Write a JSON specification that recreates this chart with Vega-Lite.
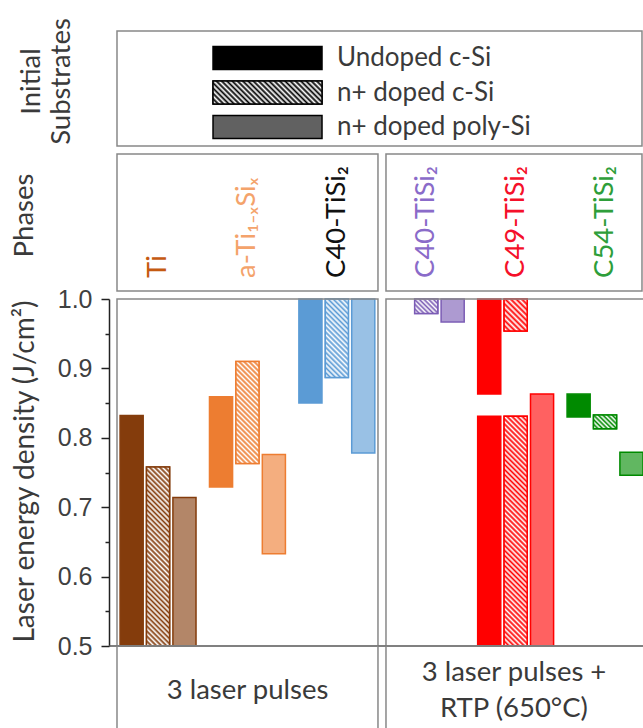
{
  "$schema": "https://vega.github.io/schema/vega-lite/v6.json",
  "autosize": {"type": "pad"},
  "padding": {"left": 10, "top": 17, "right": 0, "bottom": 0},
  "background": "white",
  "config": {
    "view": {"stroke": null},
    "font": "Lato",
    "axis": {"grid": false}
  },
  "datasets": {
    "substrates": [
      {"substrate": "Undoped c-Si"},
      {"substrate": "n+ doped c-Si"},
      {"substrate": "n+ doped poly-Si"}
    ],
    "phases": [
      {"panel": "laser", "group": "Ti", "label": "Ti"},
      {"panel": "laser", "group": "a-TiSi", "label": "a-Ti₁₋ₓSiₓ"},
      {"panel": "laser", "group": "C40 laser", "label": "C40-TiSi₂"},
      {"panel": "rtp", "group": "C40 RTP", "label": "C40-TiSi₂"},
      {"panel": "rtp", "group": "C49", "label": "C49-TiSi₂"},
      {"panel": "rtp", "group": "C54", "label": "C54-TiSi₂"}
    ],
    "treatments": [
      {"panel": "laser", "label": "3 laser pulses"},
      {"panel": "rtp", "label": "3 laser pulses +\nRTP (650°C)"}
    ],
    "bars": [
      {"panel": "laser", "group": "Ti", "substrate": "Undoped c-Si", "low": 0.5, "high": 0.832},
      {"panel": "laser", "group": "Ti", "substrate": "n+ doped c-Si", "low": 0.5, "high": 0.758},
      {"panel": "laser", "group": "Ti", "substrate": "n+ doped poly-Si", "low": 0.5, "high": 0.714},
      {"panel": "laser", "group": "a-TiSi", "substrate": "Undoped c-Si", "low": 0.729, "high": 0.859},
      {"panel": "laser", "group": "a-TiSi", "substrate": "n+ doped c-Si", "low": 0.763, "high": 0.91},
      {"panel": "laser", "group": "a-TiSi", "substrate": "n+ doped poly-Si", "low": 0.633, "high": 0.776},
      {"panel": "laser", "group": "C40 laser", "substrate": "Undoped c-Si", "low": 0.85, "high": 1.0},
      {"panel": "laser", "group": "C40 laser", "substrate": "n+ doped c-Si", "low": 0.887, "high": 1.0},
      {"panel": "laser", "group": "C40 laser", "substrate": "n+ doped poly-Si", "low": 0.778, "high": 1.0},
      {"panel": "rtp", "group": "C40 RTP", "substrate": "n+ doped c-Si", "low": 0.979, "high": 1.0},
      {"panel": "rtp", "group": "C40 RTP", "substrate": "n+ doped poly-Si", "low": 0.967, "high": 1.0},
      {"panel": "rtp", "group": "C49", "substrate": "Undoped c-Si", "low": 0.863, "high": 1.0},
      {"panel": "rtp", "group": "C49", "substrate": "Undoped c-Si", "low": 0.5, "high": 0.831},
      {"panel": "rtp", "group": "C49", "substrate": "n+ doped c-Si", "low": 0.954, "high": 1.0},
      {"panel": "rtp", "group": "C49", "substrate": "n+ doped c-Si", "low": 0.5, "high": 0.831},
      {"panel": "rtp", "group": "C49", "substrate": "n+ doped poly-Si", "low": 0.5, "high": 0.863},
      {"panel": "rtp", "group": "C54", "substrate": "Undoped c-Si", "low": 0.83, "high": 0.863},
      {"panel": "rtp", "group": "C54", "substrate": "n+ doped c-Si", "low": 0.813, "high": 0.833},
      {"panel": "rtp", "group": "C54", "substrate": "n+ doped poly-Si", "low": 0.746, "high": 0.779}
    ]
  },
  "bounds": "flush",
  "spacing": 0,
  "resolve": {"scale": {"x": "independent", "y": "independent", "color": "independent", "fill": "independent", "stroke": "independent", "fillOpacity": "independent"}},
  "vconcat": [
    {
      "width": 534,
      "height": 123,
      "resolve": {"scale": {"y": "independent", "x": "shared"}},
      "layer": [
        {
          "data": {"values": [{}]},
          "mark": {"type": "rect", "fill": "transparent", "stroke": "#888888", "strokeWidth": 1.5},
          "encoding": {
            "x": {"datum": 0.01498, "type": "quantitative", "scale": {"domain": [0, 1]}, "axis": null},
            "x2": {"datum": 0.9981},
            "y": {"datum": 0.065, "type": "quantitative", "scale": {"domain": [0, 1]}, "axis": null},
            "y2": {"datum": 1}
          }
        },
        {
          "data": {"name": "substrates"},
          "encoding": {
            "y": {
              "field": "substrate", "type": "nominal", "sort": null,
              "scale": {"domain": ["Undoped c-Si", "n+ doped c-Si", "n+ doped poly-Si"], "paddingInner": 0.333, "paddingOuter": 0.449},
              "axis": {"title": ["Initial", "Substrates"], "labels": false, "ticks": false, "domain": false,
                       "titleFont": "Lato", "titleFontSize": 27.5, "titleFontWeight": "normal", "titleColor": "#3a3a3a",
                       "titleAngle": 270, "titleAlign": "center", "titleBaseline": "middle", "titleX": -78, "titleY": 50, "titleLineHeight": 30}
            }
          },
          "layer": [
            {
              "mark": {"type": "rect", "stroke": "black", "strokeWidth": 1.5},
              "encoding": {
                "x": {"datum": 0.1948, "type": "quantitative"},
                "x2": {"datum": 0.3989},
                "fill": {"value": "black"},
                "fillOpacity": {"field": "substrate", "type": "nominal", "scale": {"type": "ordinal", "domain": ["Undoped c-Si", "n+ doped c-Si", "n+ doped poly-Si"], "range": [1, 0.5, 0.62]}, "legend": null}
              }
            },
            {
              "transform": [{"filter": "datum.substrate == 'n+ doped c-Si'"}],
              "mark": {"type": "rect", "stroke": "black", "strokeWidth": 1.5,
                       "fill": {"gradient": "linear", "x1": 0, "y1": 1, "x2": 1.159, "y2": 0.755, "stops": [
                         {"offset": 0, "color": "#000000"}, {"offset": 0.02, "color": "#ffffff"}, {"offset": 0.04, "color": "#000000"}, {"offset": 0.06, "color": "#ffffff"},
                         {"offset": 0.08, "color": "#000000"}, {"offset": 0.1, "color": "#ffffff"}, {"offset": 0.12, "color": "#000000"}, {"offset": 0.14, "color": "#ffffff"},
                         {"offset": 0.16, "color": "#000000"}, {"offset": 0.18, "color": "#ffffff"}, {"offset": 0.2, "color": "#000000"}, {"offset": 0.22, "color": "#ffffff"},
                         {"offset": 0.24, "color": "#000000"}, {"offset": 0.26, "color": "#ffffff"}, {"offset": 0.28, "color": "#000000"}, {"offset": 0.3, "color": "#ffffff"},
                         {"offset": 0.32, "color": "#000000"}, {"offset": 0.34, "color": "#ffffff"}, {"offset": 0.36, "color": "#000000"}, {"offset": 0.38, "color": "#ffffff"},
                         {"offset": 0.4, "color": "#000000"}, {"offset": 0.42, "color": "#ffffff"}, {"offset": 0.44, "color": "#000000"}, {"offset": 0.46, "color": "#ffffff"},
                         {"offset": 0.48, "color": "#000000"}, {"offset": 0.5, "color": "#ffffff"}, {"offset": 0.52, "color": "#000000"}, {"offset": 0.54, "color": "#ffffff"},
                         {"offset": 0.56, "color": "#000000"}, {"offset": 0.58, "color": "#ffffff"}, {"offset": 0.6, "color": "#000000"}, {"offset": 0.62, "color": "#ffffff"},
                         {"offset": 0.64, "color": "#000000"}, {"offset": 0.66, "color": "#ffffff"}, {"offset": 0.68, "color": "#000000"}, {"offset": 0.7, "color": "#ffffff"},
                         {"offset": 0.72, "color": "#000000"}, {"offset": 0.74, "color": "#ffffff"}, {"offset": 0.76, "color": "#000000"}, {"offset": 0.78, "color": "#ffffff"},
                         {"offset": 0.8, "color": "#000000"}, {"offset": 0.82, "color": "#ffffff"}, {"offset": 0.84, "color": "#000000"}, {"offset": 0.86, "color": "#ffffff"},
                         {"offset": 0.88, "color": "#000000"}, {"offset": 0.9, "color": "#ffffff"}, {"offset": 0.92, "color": "#000000"}, {"offset": 0.94, "color": "#ffffff"},
                         {"offset": 0.96, "color": "#000000"}, {"offset": 0.98, "color": "#ffffff"}, {"offset": 1, "color": "#000000"}]}},
              "encoding": {
                "x": {"datum": 0.1948, "type": "quantitative"},
                "x2": {"datum": 0.3989}
              }
            },
            {
              "mark": {"type": "text", "align": "left", "baseline": "middle", "font": "Lato", "fontSize": 26, "color": "#3a3a3a"},
              "encoding": {
                "x": {"datum": 0.427, "type": "quantitative"},
                "text": {"field": "substrate"}
              }
            }
          ]
        }
      ]
    },
    {
      "width": 534,
      "height": 145,
      "resolve": {"scale": {"x": "independent"}},
      "layer": [
        {
          "data": {"values": [{}]},
          "layer": [
            {
              "mark": {"type": "rect", "fill": "transparent", "stroke": "#888888", "strokeWidth": 1.5},
              "encoding": {
                "x": {"datum": 0.01498, "type": "quantitative", "scale": {"domain": [0, 1]}, "axis": null},
                "x2": {"datum": 0.5037},
                "y": {"datum": 0.0552, "type": "quantitative", "scale": {"domain": [0, 1]},
                      "axis": {"title": "Phases", "labels": false, "ticks": false, "domain": false,
                               "titleFont": "Lato", "titleFontSize": 27.5, "titleFontWeight": "normal", "titleColor": "#3a3a3a",
                               "titleAngle": 270, "titleAlign": "center", "titleBaseline": "middle", "titleX": -85, "titleY": 61}},
                "y2": {"datum": 1}
              }
            },
            {
              "mark": {"type": "rect", "fill": "transparent", "stroke": "#888888", "strokeWidth": 1.5},
              "encoding": {
                "x": {"datum": 0.5187, "type": "quantitative"},
                "x2": {"datum": 0.9981},
                "y": {"datum": 0.0552, "type": "quantitative"},
                "y2": {"datum": 1}
              }
            }
          ]
        },
        {
          "data": {"name": "phases"},
          "mark": {"type": "text", "angle": 270, "align": "left", "baseline": "middle", "font": "Lato", "fontSize": 27.5},
          "encoding": {
            "x": {"field": "group", "type": "nominal", "sort": null, "scale": {"type": "band", "domain": ["Ti", "a-TiSi", "C40 laser", "C40 RTP", "C49", "C54"], "paddingInner": 0.1506, "paddingOuter": 0.062, "align": 1}, "axis": null},
            "y": {"datum": 0.145, "type": "quantitative"},
            "text": {"field": "label"},
            "color": {"field": "group", "type": "nominal", "scale": {"domain": ["Ti", "a-TiSi", "C40 laser", "C40 RTP", "C49", "C54"], "range": ["#C55A11", "#F4A36B", "#111111", "#8A6BC9", "#F5102A", "#2E9E3A"]}, "legend": null}
          }
        }
      ]
    },
    {
      "width": 534,
      "height": 347,
      "resolve": {"scale": {"x": "independent", "y": "independent"}},
      "layer": [
        {
          "data": {"name": "bars"},
          "encoding": {
            "x": {"field": "group", "type": "nominal", "sort": null, "scale": {"domain": ["Ti", "a-TiSi", "C40 laser", "C40 RTP", "C49", "C54"], "paddingInner": 0.1506, "paddingOuter": 0.062, "align": 1}, "axis": null},
            "xOffset": {"field": "substrate", "type": "nominal", "sort": null, "scale": {"domain": ["Undoped c-Si", "n+ doped c-Si", "n+ doped poly-Si"], "paddingInner": 0.1255, "paddingOuter": 0}},
            "y": {
              "field": "low", "type": "quantitative",
              "scale": {"domain": [0.5, 1.0], "nice": false, "zero": false},
              "axis": {
                "title": "Laser energy density (J/cm²)",
                "values": [0.5, 0.6, 0.7, 0.8, 0.9, 1.0],
                "format": ".1f",
                "tickSize": 8,
                "domainColor": "#222222", "domainWidth": 1.5,
                "tickColor": "#222222", "tickWidth": 1.5,
                "labelFont": "Liberation Sans", "labelFontSize": 25, "labelColor": "#404040",
                "labelPadding": 9, "labelOverlap": false, "labelFlush": false,
                "titleFont": "Lato", "titleFontSize": 28, "titleFontWeight": "normal", "titleColor": "#3a3a3a",
                "titleAngle": 270, "titleAlign": "center", "titleBaseline": "middle", "titleX": -84, "titleY": 172
              }
            },
            "y2": {"field": "high"}
          },
          "layer": [
            {
              "mark": {"type": "bar", "strokeWidth": 1.5},
              "encoding": {
                "fill": {"field": "group", "type": "nominal", "scale": {"domain": ["Ti", "a-TiSi", "C40 laser", "C40 RTP", "C49", "C54"], "range": ["#843C0C", "#ED7D31", "#5B9BD5", "#7B5CB5", "#FF0000", "#008A00"]}, "legend": null},
                "stroke": {"field": "group", "type": "nominal", "scale": {"domain": ["Ti", "a-TiSi", "C40 laser", "C40 RTP", "C49", "C54"], "range": ["#843C0C", "#ED7D31", "#5B9BD5", "#7B5CB5", "#FF0000", "#008A00"]}, "legend": null},
                "fillOpacity": {"field": "substrate", "type": "nominal", "scale": {"type": "ordinal", "domain": ["Undoped c-Si", "n+ doped c-Si", "n+ doped poly-Si"], "range": [1, 0.5, 0.62]}, "legend": null}
              }
            },
            {
              "transform": [{"filter": "datum.group == 'Ti' && datum.substrate == 'n+ doped c-Si'"}],
              "mark": {"type": "bar", "strokeWidth": 1.5, "stroke": "#843C0C",
                       "fill": {"gradient": "linear", "x1": 0, "y1": 1, "x2": 0.143, "y2": -0.11, "stops": [
                         {"offset": 0, "color": "#843C0C"}, {"offset": 0.0125, "color": "#ffffff"}, {"offset": 0.025, "color": "#843C0C"}, {"offset": 0.0375, "color": "#ffffff"},
                         {"offset": 0.05, "color": "#843C0C"}, {"offset": 0.0625, "color": "#ffffff"}, {"offset": 0.075, "color": "#843C0C"}, {"offset": 0.0875, "color": "#ffffff"},
                         {"offset": 0.1, "color": "#843C0C"}, {"offset": 0.1125, "color": "#ffffff"}, {"offset": 0.125, "color": "#843C0C"}, {"offset": 0.1375, "color": "#ffffff"},
                         {"offset": 0.15, "color": "#843C0C"}, {"offset": 0.1625, "color": "#ffffff"}, {"offset": 0.175, "color": "#843C0C"}, {"offset": 0.1875, "color": "#ffffff"},
                         {"offset": 0.2, "color": "#843C0C"}, {"offset": 0.2125, "color": "#ffffff"}, {"offset": 0.225, "color": "#843C0C"}, {"offset": 0.2375, "color": "#ffffff"},
                         {"offset": 0.25, "color": "#843C0C"}, {"offset": 0.2625, "color": "#ffffff"}, {"offset": 0.275, "color": "#843C0C"}, {"offset": 0.2875, "color": "#ffffff"},
                         {"offset": 0.3, "color": "#843C0C"}, {"offset": 0.3125, "color": "#ffffff"}, {"offset": 0.325, "color": "#843C0C"}, {"offset": 0.3375, "color": "#ffffff"},
                         {"offset": 0.35, "color": "#843C0C"}, {"offset": 0.3625, "color": "#ffffff"}, {"offset": 0.375, "color": "#843C0C"}, {"offset": 0.3875, "color": "#ffffff"},
                         {"offset": 0.4, "color": "#843C0C"}, {"offset": 0.4125, "color": "#ffffff"}, {"offset": 0.425, "color": "#843C0C"}, {"offset": 0.4375, "color": "#ffffff"},
                         {"offset": 0.45, "color": "#843C0C"}, {"offset": 0.4625, "color": "#ffffff"}, {"offset": 0.475, "color": "#843C0C"}, {"offset": 0.4875, "color": "#ffffff"},
                         {"offset": 0.5, "color": "#843C0C"}, {"offset": 0.5125, "color": "#ffffff"}, {"offset": 0.525, "color": "#843C0C"}, {"offset": 0.5375, "color": "#ffffff"},
                         {"offset": 0.55, "color": "#843C0C"}, {"offset": 0.5625, "color": "#ffffff"}, {"offset": 0.575, "color": "#843C0C"}, {"offset": 0.5875, "color": "#ffffff"},
                         {"offset": 0.6, "color": "#843C0C"}, {"offset": 0.6125, "color": "#ffffff"}, {"offset": 0.625, "color": "#843C0C"}, {"offset": 0.6375, "color": "#ffffff"},
                         {"offset": 0.65, "color": "#843C0C"}, {"offset": 0.6625, "color": "#ffffff"}, {"offset": 0.675, "color": "#843C0C"}, {"offset": 0.6875, "color": "#ffffff"},
                         {"offset": 0.7, "color": "#843C0C"}, {"offset": 0.7125, "color": "#ffffff"}, {"offset": 0.725, "color": "#843C0C"}, {"offset": 0.7375, "color": "#ffffff"},
                         {"offset": 0.75, "color": "#843C0C"}, {"offset": 0.7625, "color": "#ffffff"}, {"offset": 0.775, "color": "#843C0C"}, {"offset": 0.7875, "color": "#ffffff"},
                         {"offset": 0.8, "color": "#843C0C"}, {"offset": 0.8125, "color": "#ffffff"}, {"offset": 0.825, "color": "#843C0C"}, {"offset": 0.8375, "color": "#ffffff"},
                         {"offset": 0.85, "color": "#843C0C"}, {"offset": 0.8625, "color": "#ffffff"}, {"offset": 0.875, "color": "#843C0C"}, {"offset": 0.8875, "color": "#ffffff"},
                         {"offset": 0.9, "color": "#843C0C"}, {"offset": 0.9125, "color": "#ffffff"}, {"offset": 0.925, "color": "#843C0C"}, {"offset": 0.9375, "color": "#ffffff"},
                         {"offset": 0.95, "color": "#843C0C"}, {"offset": 0.9625, "color": "#ffffff"}, {"offset": 0.975, "color": "#843C0C"}, {"offset": 0.9875, "color": "#ffffff"},
                         {"offset": 1, "color": "#843C0C"}]}}
            },
            {
              "transform": [{"filter": "datum.group == 'a-TiSi' && datum.substrate == 'n+ doped c-Si'"}],
              "mark": {"type": "bar", "strokeWidth": 1.5, "stroke": "#ED7D31",
                       "fill": {"gradient": "linear", "x1": 0, "y1": 1, "x2": 0.263, "y2": -0.166, "stops": [
                         {"offset": 0, "color": "#ED7D31"}, {"offset": 0.02, "color": "#ffffff"}, {"offset": 0.04, "color": "#ED7D31"}, {"offset": 0.06, "color": "#ffffff"},
                         {"offset": 0.08, "color": "#ED7D31"}, {"offset": 0.1, "color": "#ffffff"}, {"offset": 0.12, "color": "#ED7D31"}, {"offset": 0.14, "color": "#ffffff"},
                         {"offset": 0.16, "color": "#ED7D31"}, {"offset": 0.18, "color": "#ffffff"}, {"offset": 0.2, "color": "#ED7D31"}, {"offset": 0.22, "color": "#ffffff"},
                         {"offset": 0.24, "color": "#ED7D31"}, {"offset": 0.26, "color": "#ffffff"}, {"offset": 0.28, "color": "#ED7D31"}, {"offset": 0.3, "color": "#ffffff"},
                         {"offset": 0.32, "color": "#ED7D31"}, {"offset": 0.34, "color": "#ffffff"}, {"offset": 0.36, "color": "#ED7D31"}, {"offset": 0.38, "color": "#ffffff"},
                         {"offset": 0.4, "color": "#ED7D31"}, {"offset": 0.42, "color": "#ffffff"}, {"offset": 0.44, "color": "#ED7D31"}, {"offset": 0.46, "color": "#ffffff"},
                         {"offset": 0.48, "color": "#ED7D31"}, {"offset": 0.5, "color": "#ffffff"}, {"offset": 0.52, "color": "#ED7D31"}, {"offset": 0.54, "color": "#ffffff"},
                         {"offset": 0.56, "color": "#ED7D31"}, {"offset": 0.58, "color": "#ffffff"}, {"offset": 0.6, "color": "#ED7D31"}, {"offset": 0.62, "color": "#ffffff"},
                         {"offset": 0.64, "color": "#ED7D31"}, {"offset": 0.66, "color": "#ffffff"}, {"offset": 0.68, "color": "#ED7D31"}, {"offset": 0.7, "color": "#ffffff"},
                         {"offset": 0.72, "color": "#ED7D31"}, {"offset": 0.74, "color": "#ffffff"}, {"offset": 0.76, "color": "#ED7D31"}, {"offset": 0.78, "color": "#ffffff"},
                         {"offset": 0.8, "color": "#ED7D31"}, {"offset": 0.82, "color": "#ffffff"}, {"offset": 0.84, "color": "#ED7D31"}, {"offset": 0.86, "color": "#ffffff"},
                         {"offset": 0.88, "color": "#ED7D31"}, {"offset": 0.9, "color": "#ffffff"}, {"offset": 0.92, "color": "#ED7D31"}, {"offset": 0.94, "color": "#ffffff"},
                         {"offset": 0.96, "color": "#ED7D31"}, {"offset": 0.98, "color": "#ffffff"}, {"offset": 1, "color": "#ED7D31"}]}}
            },
            {
              "transform": [{"filter": "datum.group == 'C40 laser' && datum.substrate == 'n+ doped c-Si'"}],
              "mark": {"type": "bar", "strokeWidth": 1.5, "stroke": "#5B9BD5",
                       "fill": {"gradient": "linear", "x1": 0, "y1": 1, "x2": 0.349, "y2": -0.191, "stops": [
                         {"offset": 0, "color": "#5B9BD5"}, {"offset": 0.025, "color": "#ffffff"}, {"offset": 0.05, "color": "#5B9BD5"}, {"offset": 0.075, "color": "#ffffff"},
                         {"offset": 0.1, "color": "#5B9BD5"}, {"offset": 0.125, "color": "#ffffff"}, {"offset": 0.15, "color": "#5B9BD5"}, {"offset": 0.175, "color": "#ffffff"},
                         {"offset": 0.2, "color": "#5B9BD5"}, {"offset": 0.225, "color": "#ffffff"}, {"offset": 0.25, "color": "#5B9BD5"}, {"offset": 0.275, "color": "#ffffff"},
                         {"offset": 0.3, "color": "#5B9BD5"}, {"offset": 0.325, "color": "#ffffff"}, {"offset": 0.35, "color": "#5B9BD5"}, {"offset": 0.375, "color": "#ffffff"},
                         {"offset": 0.4, "color": "#5B9BD5"}, {"offset": 0.425, "color": "#ffffff"}, {"offset": 0.45, "color": "#5B9BD5"}, {"offset": 0.475, "color": "#ffffff"},
                         {"offset": 0.5, "color": "#5B9BD5"}, {"offset": 0.525, "color": "#ffffff"}, {"offset": 0.55, "color": "#5B9BD5"}, {"offset": 0.575, "color": "#ffffff"},
                         {"offset": 0.6, "color": "#5B9BD5"}, {"offset": 0.625, "color": "#ffffff"}, {"offset": 0.65, "color": "#5B9BD5"}, {"offset": 0.675, "color": "#ffffff"},
                         {"offset": 0.7, "color": "#5B9BD5"}, {"offset": 0.725, "color": "#ffffff"}, {"offset": 0.75, "color": "#5B9BD5"}, {"offset": 0.775, "color": "#ffffff"},
                         {"offset": 0.8, "color": "#5B9BD5"}, {"offset": 0.825, "color": "#ffffff"}, {"offset": 0.85, "color": "#5B9BD5"}, {"offset": 0.875, "color": "#ffffff"},
                         {"offset": 0.9, "color": "#5B9BD5"}, {"offset": 0.925, "color": "#ffffff"}, {"offset": 0.95, "color": "#5B9BD5"}, {"offset": 0.975, "color": "#ffffff"},
                         {"offset": 1, "color": "#5B9BD5"}]}}
            },
            {
              "transform": [{"filter": "datum.group == 'C40 RTP' && datum.substrate == 'n+ doped c-Si'"}],
              "mark": {"type": "bar", "strokeWidth": 1.5, "stroke": "#7B5CB5",
                       "fill": {"gradient": "linear", "x1": 0, "y1": 1, "x2": 1.165, "y2": 0.26, "stops": [
                         {"offset": 0, "color": "#7B5CB5"}, {"offset": 0.0625, "color": "#ffffff"}, {"offset": 0.125, "color": "#7B5CB5"}, {"offset": 0.1875, "color": "#ffffff"},
                         {"offset": 0.25, "color": "#7B5CB5"}, {"offset": 0.3125, "color": "#ffffff"}, {"offset": 0.375, "color": "#7B5CB5"}, {"offset": 0.4375, "color": "#ffffff"},
                         {"offset": 0.5, "color": "#7B5CB5"}, {"offset": 0.5625, "color": "#ffffff"}, {"offset": 0.625, "color": "#7B5CB5"}, {"offset": 0.6875, "color": "#ffffff"},
                         {"offset": 0.75, "color": "#7B5CB5"}, {"offset": 0.8125, "color": "#ffffff"}, {"offset": 0.875, "color": "#7B5CB5"}, {"offset": 0.9375, "color": "#ffffff"},
                         {"offset": 1, "color": "#7B5CB5"}]}}
            },
            {
              "transform": [{"filter": "datum.group == 'C49' && datum.substrate == 'n+ doped c-Si' && datum.low > 0.9"}],
              "mark": {"type": "bar", "strokeWidth": 1.5, "stroke": "#FF0000",
                       "fill": {"gradient": "linear", "x1": 0, "y1": 1, "x2": 0.816, "y2": -0.132, "stops": [
                         {"offset": 0, "color": "#FF0000"}, {"offset": 0.05, "color": "#ffffff"}, {"offset": 0.1, "color": "#FF0000"}, {"offset": 0.15, "color": "#ffffff"},
                         {"offset": 0.2, "color": "#FF0000"}, {"offset": 0.25, "color": "#ffffff"}, {"offset": 0.3, "color": "#FF0000"}, {"offset": 0.35, "color": "#ffffff"},
                         {"offset": 0.4, "color": "#FF0000"}, {"offset": 0.45, "color": "#ffffff"}, {"offset": 0.5, "color": "#FF0000"}, {"offset": 0.55, "color": "#ffffff"},
                         {"offset": 0.6, "color": "#FF0000"}, {"offset": 0.65, "color": "#ffffff"}, {"offset": 0.7, "color": "#FF0000"}, {"offset": 0.75, "color": "#ffffff"},
                         {"offset": 0.8, "color": "#FF0000"}, {"offset": 0.85, "color": "#ffffff"}, {"offset": 0.9, "color": "#FF0000"}, {"offset": 0.95, "color": "#ffffff"},
                         {"offset": 1, "color": "#FF0000"}]}}
            },
            {
              "transform": [{"filter": "datum.group == 'C49' && datum.substrate == 'n+ doped c-Si' && datum.low < 0.9"}],
              "mark": {"type": "bar", "strokeWidth": 1.5, "stroke": "#FF0000",
                       "fill": {"gradient": "linear", "x1": 0, "y1": 1, "x2": 0.109, "y2": -0.089, "stops": [
                         {"offset": 0, "color": "#FF0000"}, {"offset": 0.01, "color": "#ffffff"}, {"offset": 0.02, "color": "#FF0000"}, {"offset": 0.03, "color": "#ffffff"},
                         {"offset": 0.04, "color": "#FF0000"}, {"offset": 0.05, "color": "#ffffff"}, {"offset": 0.06, "color": "#FF0000"}, {"offset": 0.07, "color": "#ffffff"},
                         {"offset": 0.08, "color": "#FF0000"}, {"offset": 0.09, "color": "#ffffff"}, {"offset": 0.1, "color": "#FF0000"}, {"offset": 0.11, "color": "#ffffff"},
                         {"offset": 0.12, "color": "#FF0000"}, {"offset": 0.13, "color": "#ffffff"}, {"offset": 0.14, "color": "#FF0000"}, {"offset": 0.15, "color": "#ffffff"},
                         {"offset": 0.16, "color": "#FF0000"}, {"offset": 0.17, "color": "#ffffff"}, {"offset": 0.18, "color": "#FF0000"}, {"offset": 0.19, "color": "#ffffff"},
                         {"offset": 0.2, "color": "#FF0000"}, {"offset": 0.21, "color": "#ffffff"}, {"offset": 0.22, "color": "#FF0000"}, {"offset": 0.23, "color": "#ffffff"},
                         {"offset": 0.24, "color": "#FF0000"}, {"offset": 0.25, "color": "#ffffff"}, {"offset": 0.26, "color": "#FF0000"}, {"offset": 0.27, "color": "#ffffff"},
                         {"offset": 0.28, "color": "#FF0000"}, {"offset": 0.29, "color": "#ffffff"}, {"offset": 0.3, "color": "#FF0000"}, {"offset": 0.31, "color": "#ffffff"},
                         {"offset": 0.32, "color": "#FF0000"}, {"offset": 0.33, "color": "#ffffff"}, {"offset": 0.34, "color": "#FF0000"}, {"offset": 0.35, "color": "#ffffff"},
                         {"offset": 0.36, "color": "#FF0000"}, {"offset": 0.37, "color": "#ffffff"}, {"offset": 0.38, "color": "#FF0000"}, {"offset": 0.39, "color": "#ffffff"},
                         {"offset": 0.4, "color": "#FF0000"}, {"offset": 0.41, "color": "#ffffff"}, {"offset": 0.42, "color": "#FF0000"}, {"offset": 0.43, "color": "#ffffff"},
                         {"offset": 0.44, "color": "#FF0000"}, {"offset": 0.45, "color": "#ffffff"}, {"offset": 0.46, "color": "#FF0000"}, {"offset": 0.47, "color": "#ffffff"},
                         {"offset": 0.48, "color": "#FF0000"}, {"offset": 0.49, "color": "#ffffff"}, {"offset": 0.5, "color": "#FF0000"}, {"offset": 0.51, "color": "#ffffff"},
                         {"offset": 0.52, "color": "#FF0000"}, {"offset": 0.53, "color": "#ffffff"}, {"offset": 0.54, "color": "#FF0000"}, {"offset": 0.55, "color": "#ffffff"},
                         {"offset": 0.56, "color": "#FF0000"}, {"offset": 0.57, "color": "#ffffff"}, {"offset": 0.58, "color": "#FF0000"}, {"offset": 0.59, "color": "#ffffff"},
                         {"offset": 0.6, "color": "#FF0000"}, {"offset": 0.61, "color": "#ffffff"}, {"offset": 0.62, "color": "#FF0000"}, {"offset": 0.63, "color": "#ffffff"},
                         {"offset": 0.64, "color": "#FF0000"}, {"offset": 0.65, "color": "#ffffff"}, {"offset": 0.66, "color": "#FF0000"}, {"offset": 0.67, "color": "#ffffff"},
                         {"offset": 0.68, "color": "#FF0000"}, {"offset": 0.69, "color": "#ffffff"}, {"offset": 0.7, "color": "#FF0000"}, {"offset": 0.71, "color": "#ffffff"},
                         {"offset": 0.72, "color": "#FF0000"}, {"offset": 0.73, "color": "#ffffff"}, {"offset": 0.74, "color": "#FF0000"}, {"offset": 0.75, "color": "#ffffff"},
                         {"offset": 0.76, "color": "#FF0000"}, {"offset": 0.77, "color": "#ffffff"}, {"offset": 0.78, "color": "#FF0000"}, {"offset": 0.79, "color": "#ffffff"},
                         {"offset": 0.8, "color": "#FF0000"}, {"offset": 0.81, "color": "#ffffff"}, {"offset": 0.82, "color": "#FF0000"}, {"offset": 0.83, "color": "#ffffff"},
                         {"offset": 0.84, "color": "#FF0000"}, {"offset": 0.85, "color": "#ffffff"}, {"offset": 0.86, "color": "#FF0000"}, {"offset": 0.87, "color": "#ffffff"},
                         {"offset": 0.88, "color": "#FF0000"}, {"offset": 0.89, "color": "#ffffff"}, {"offset": 0.9, "color": "#FF0000"}, {"offset": 0.91, "color": "#ffffff"},
                         {"offset": 0.92, "color": "#FF0000"}, {"offset": 0.93, "color": "#ffffff"}, {"offset": 0.94, "color": "#FF0000"}, {"offset": 0.95, "color": "#ffffff"},
                         {"offset": 0.96, "color": "#FF0000"}, {"offset": 0.97, "color": "#ffffff"}, {"offset": 0.98, "color": "#FF0000"}, {"offset": 0.99, "color": "#ffffff"},
                         {"offset": 1, "color": "#FF0000"}]}}
            },
            {
              "transform": [{"filter": "datum.group == 'C54' && datum.substrate == 'n+ doped c-Si'"}],
              "mark": {"type": "bar", "strokeWidth": 1.5, "stroke": "#008A00",
                       "fill": {"gradient": "linear", "x1": 0, "y1": 1, "x2": 1.176, "y2": 0.29, "stops": [
                         {"offset": 0, "color": "#008A00"}, {"offset": 0.0625, "color": "#ffffff"}, {"offset": 0.125, "color": "#008A00"}, {"offset": 0.1875, "color": "#ffffff"},
                         {"offset": 0.25, "color": "#008A00"}, {"offset": 0.3125, "color": "#ffffff"}, {"offset": 0.375, "color": "#008A00"}, {"offset": 0.4375, "color": "#ffffff"},
                         {"offset": 0.5, "color": "#008A00"}, {"offset": 0.5625, "color": "#ffffff"}, {"offset": 0.625, "color": "#008A00"}, {"offset": 0.6875, "color": "#ffffff"},
                         {"offset": 0.75, "color": "#008A00"}, {"offset": 0.8125, "color": "#ffffff"}, {"offset": 0.875, "color": "#008A00"}, {"offset": 0.9375, "color": "#ffffff"},
                         {"offset": 1, "color": "#008A00"}]}}
            }
          ]
        },
        {
          "data": {"values": [{}]},
          "layer": [
            {
              "mark": {"type": "rect", "fill": "transparent", "stroke": "#888888", "strokeWidth": 1.5},
              "encoding": {
                "x": {"datum": 0.01498, "type": "quantitative", "scale": {"domain": [0, 1]}, "axis": null},
                "x2": {"datum": 0.5037},
                "y": {"datum": 0.5, "type": "quantitative", "scale": {"domain": [0.5, 1.0], "nice": false, "zero": false},
                      "axis": {"orient": "left", "values": [0.55, 0.65, 0.75, 0.85, 0.95], "tickSize": 4, "labels": false, "domain": false, "title": null, "tickColor": "#222222", "tickWidth": 1.5}},
                "y2": {"datum": 1.0}
              }
            },
            {
              "mark": {"type": "rect", "fill": "transparent", "stroke": "#888888", "strokeWidth": 1.5},
              "encoding": {
                "x": {"datum": 0.5187, "type": "quantitative"},
                "x2": {"datum": 1.01},
                "y": {"datum": 0.5, "type": "quantitative"},
                "y2": {"datum": 1.0}
              }
            },
            {
              "mark": {"type": "rule", "stroke": "#555555", "strokeWidth": 1.5},
              "encoding": {
                "x": {"datum": 0, "type": "quantitative"},
                "x2": {"datum": 1.01},
                "y": {"datum": 0.5, "type": "quantitative"}
              }
            }
          ]
        }
      ]
    },
    {
      "width": 534,
      "height": 90,
      "layer": [
        {
          "data": {"values": [{}]},
          "layer": [
            {
              "mark": {"type": "rect", "fill": "transparent", "stroke": "#888888", "strokeWidth": 1.5},
              "encoding": {
                "x": {"datum": 0.01498, "type": "quantitative", "scale": {"domain": [0, 1]}, "axis": null},
                "x2": {"datum": 0.5037},
                "y": {"datum": -0.2, "type": "quantitative", "scale": {"domain": [0, 1]}, "axis": null},
                "y2": {"datum": 1}
              }
            },
            {
              "mark": {"type": "rect", "fill": "transparent", "stroke": "#888888", "strokeWidth": 1.5},
              "encoding": {
                "x": {"datum": 0.5187, "type": "quantitative"},
                "x2": {"datum": 1.01},
                "y": {"datum": -0.2, "type": "quantitative"},
                "y2": {"datum": 1}
              }
            }
          ]
        },
        {
          "data": {"name": "treatments"},
          "transform": [{"filter": "datum.panel == 'laser'"}],
          "mark": {"type": "text", "align": "center", "baseline": "middle", "font": "Lato", "fontSize": 27.5, "color": "#3a3a3a"},
          "encoding": {
            "x": {"datum": 0.2594, "type": "quantitative"},
            "y": {"datum": 0.5, "type": "quantitative"},
            "text": {"field": "label"}
          }
        },
        {
          "data": {"name": "treatments"},
          "transform": [{"filter": "datum.panel == 'rtp'"}],
          "mark": {"type": "text", "align": "center", "baseline": "middle", "font": "Lato", "fontSize": 27.5, "color": "#3a3a3a", "lineBreak": "\n", "lineHeight": 36},
          "encoding": {
            "x": {"datum": 0.7584, "type": "quantitative"},
            "y": {"datum": 0.7, "type": "quantitative"},
            "text": {"field": "label"}
          }
        }
      ]
    }
  ]
}
